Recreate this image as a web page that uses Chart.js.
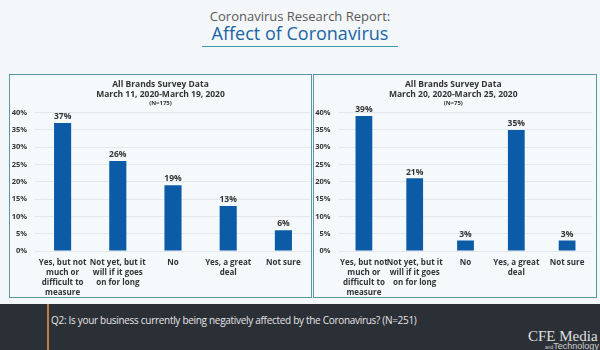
<!DOCTYPE html>
<html>
<head>
<meta charset="utf-8">
<script src="https://cdn.jsdelivr.net/npm/chart.js@4"></script>
<style>
    body { margin: 0; width: 600px; height: 350px; background: #f3f7f9; font-family: "Open Sans", sans-serif; overflow: hidden; position: relative; }
    .head1 { position: absolute; top: 7px; left: 0; width: 600px; text-align: center; font-size: 13px; line-height: 18px; color: #595959; }
    .head2 { position: absolute; top: 21px; left: 0; width: 600px; text-align: center; font-size: 18px; line-height: 24px; color: #1b64a4; }
    .rule { position: absolute; top: 46px; left: 202px; width: 196px; height: 1px; background: #3a9aa8; }
    .panel { position: absolute; top: 74px; height: 222px; border: 1px solid #5a97a5; background: #f6f9fb; }
    .panel canvas { position: absolute; left: 0; top: 0; }
    .foot { position: absolute; left: 0; top: 304px; width: 600px; height: 46px; background: #2b2f36; }
    .bar { position: absolute; left: 47px; top: 0; width: 2px; height: 46px; background: #c0803a; }
    .q { position: absolute; left: 51px; top: 9px; font-size: 10px; letter-spacing: -0.3px; color: #e6e6e6; }
    .logo1 { position: absolute; left: 528px; top: 24px; font-family: "Liberation Serif", serif; font-size: 15px; line-height: 17px; color: #e0e0e0; }
    .logo2 { position: absolute; left: 545px; top: 37px; font-family: "Liberation Sans", sans-serif; font-size: 9px; line-height: 10px; color: #cfcfcf; }
</style>
</head>
<body>
<div class="head1">Coronavirus Research Report:</div>
<div class="head2">Affect of Coronavirus</div>
<div class="rule"></div>

<div class="panel" style="left: 9px; width: 301px;"><canvas id="chart-left" width="301" height="222"></canvas></div>
<div class="panel" style="left: 313px; width: 282px;"><canvas id="chart-right" width="282" height="222"></canvas></div>

<div class="foot">
    <div class="bar"></div>
    <div class="q">Q2: Is your business currently being negatively affected by the Coronavirus? (N=251)</div>
    <div class="logo1">CFE Media</div>
    <div class="logo2"><span style="font-size:5px">and</span>Technology</div>
</div>

<script>
// Answer categories (same on both panels)
const categories = [
    ['Yes, but not', 'much or', 'difficult to', 'measure'],
    ['Not yet, but it', 'will if it goes', 'on for long'],
    'No',
    ['Yes, a great', 'deal'],
    'Not sure'
];

// Percent of respondents
const earlyValues = [37, 26, 19, 13, 6];   // March 11 - March 19
const lateValues = [39, 21, 3, 35, 3];     // March 20 - March 25

const yTicks = [0, 5, 10, 15, 20, 25, 30, 35, 40];

const earlyTitle = ['All Brands Survey Data', 'March 11, 2020-March 19, 2020'];
const earlySub = '(N=175)';
const lateTitle = ['All Brands Survey Data', 'March 20, 2020-March 25, 2020'];
const lateSub = '(N=75)';

const BAR_BLUE = '#0b5ba6';

// Draw value labels on top of bars
const valueLabels = {
    id: 'valueLabels',
    afterDatasetsDraw(chart) {
        const ctx = chart.ctx;
        const meta = chart.getDatasetMeta(0);
        ctx.save();
        ctx.font = 'bold 8.5px "Open Sans", sans-serif';
        ctx.fillStyle = '#333';
        ctx.textAlign = 'center';
        ctx.textBaseline = 'bottom';
        meta.data.forEach((bar, i) => {
            ctx.fillText(chart.data.datasets[0].data[i] + '%', bar.x, bar.y - 2);
        });
        ctx.restore();
    }
};

function makeChart(id, values, title, sub, axisWidth, padRight, barPct) {
    return new Chart(document.getElementById(id), {
        type: 'bar',
        data: {
            labels: categories,
            datasets: [{
                data: values,
                backgroundColor: BAR_BLUE,
                barPercentage: barPct,
                categoryPercentage: 1
            }]
        },
        options: {
            responsive: false,
            animation: false,
            layout: { padding: { left: 0, right: padRight, top: 0, bottom: 0 } },
            plugins: {
                legend: { display: false },
                tooltip: { enabled: false },
                title: {
                    display: true,
                    text: title,
                    color: '#333',
                    font: { family: '"Open Sans", sans-serif', size: 8.5, weight: 'bold', lineHeight: 1.2 },
                    padding: { top: 4, bottom: 0 }
                },
                subtitle: {
                    display: true,
                    text: sub,
                    color: '#333',
                    font: { family: '"Open Sans", sans-serif', size: 6, weight: 'bold', lineHeight: 1.2 },
                    padding: { top: 0, bottom: 6 }
                }
            },
            scales: {
                x: {
                    afterFit: axis => { axis.height = 46; },
                    grid: { display: false, drawTicks: false },
                    border: { display: false },
                    ticks: {
                        color: '#333',
                        font: { family: '"Open Sans", sans-serif', size: 8, weight: 'bold', lineHeight: 1.25 },
                        maxRotation: 0,
                        autoSkip: false,
                        padding: 7
                    }
                },
                y: {
                    min: 0,
                    max: 40,
                    afterFit: axis => { axis.width = axisWidth; },
                    afterBuildTicks: axis => { axis.ticks = yTicks.map(v => ({ value: v })); },
                    grid: { color: '#e3e8ec', drawTicks: false },
                    border: { display: false },
                    ticks: {
                        color: '#333',
                        font: { family: '"Open Sans", sans-serif', size: 7.5, weight: 'bold' },
                        padding: 8,
                        callback: v => v + '%'
                    }
                }
            }
        },
        plugins: [valueLabels]
    });
}

makeChart('chart-left', earlyValues, earlyTitle, earlySub, 25, 0, 0.31);
makeChart('chart-right', lateValues, lateTitle, lateSub, 24.5, 3.5, 0.33);
</script>
</body>
</html>
